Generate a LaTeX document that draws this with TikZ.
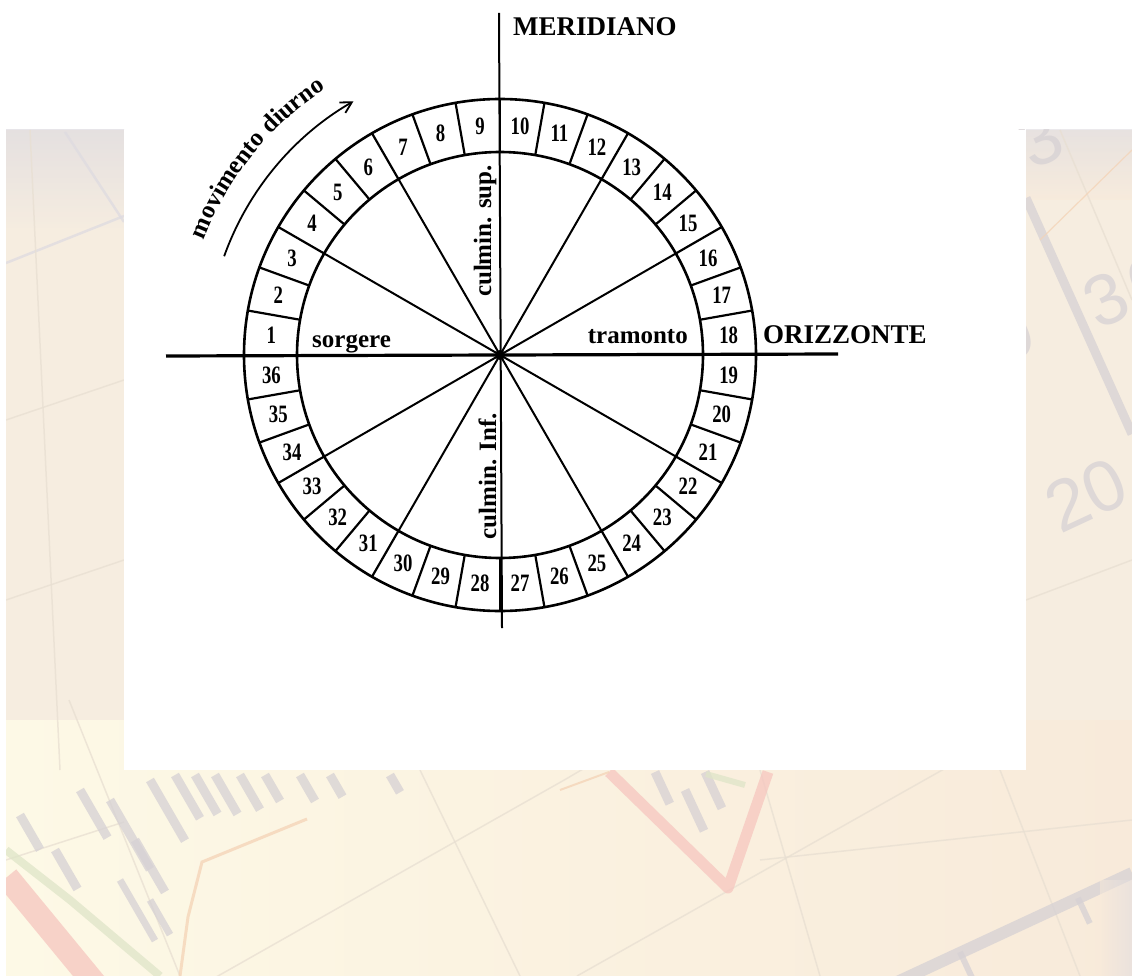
\documentclass[tikz,border=0pt]{standalone}
\usepackage{fontspec}
\setmainfont{Liberation Serif}
\newfontfamily\bgsans{Liberation Sans}
\usetikzlibrary{arrows.meta,decorations.text,calc}
\definecolor{bgcream}{HTML}{F6EDE0}
\definecolor{bgyellow}{HTML}{FDF9E6}
\definecolor{bgpeach}{HTML}{F8EADA}
\definecolor{lavgray}{HTML}{DEDBE0}
\definecolor{fadegray}{HTML}{D6D1D4}
\definecolor{fadegrid}{HTML}{E8DFD2}
\definecolor{fadered}{HTML}{F6C6BF}
\definecolor{fadeorange}{HTML}{F4D3B6}
\definecolor{fadegreen}{HTML}{DFE5C8}
\begin{document}
\begin{tikzpicture}[x=1pt,y=1pt,
  ring/.style={line width=2.6pt},
  divider/.style={line width=2.2pt},
  spoke/.style={line width=2pt},
  axisline/.style={line width=2pt},
  num/.style={font=\bfseries\fontsize{25}{25}\selectfont, inner sep=0pt},
  lbl/.style={font=\bfseries\fontsize{25}{25}\selectfont, inner sep=0pt},
  axislbl/.style={font=\bfseries\fontsize{27}{27}\selectfont, inner sep=0pt},
  gridline/.style={fadegrid, line width=1.5pt},
  fadedigit/.style={font=\bgsans\fontsize{72}{72}\selectfont, text=fadegray, inner sep=0pt},
  bar/.style={fadegray, line width=9pt}]
\useasboundingbox (0,0) rectangle (1132,-976);
\fill[white] (0,0) rectangle (1132,-976);
% ---------- faded background picture ----------
\begin{scope}
  \clip (6,-130) rectangle (1132,-976);
  \fill[bgcream] (6,-130) rectangle (1132,-976);
  \shade[left color=bgyellow, right color=bgpeach] (6,-720) rectangle (1132,-976);
  \shade[top color=lavgray, bottom color=bgcream, opacity=0.7] (6,-130) rectangle (124,-230);
  \shade[top color=lavgray, bottom color=bgpeach, opacity=0.6] (1026,-130) rectangle (1132,-200);
  \begin{scope}[opacity=0.75]
  % grid lines
  \draw[gridline, lavgray, line width=2.5pt] (6,-263) -- (124,-216);
  \draw[gridline, lavgray, line width=2.5pt] (65,-132) -- (124,-222);
  \draw[gridline] (6,-420) -- (124,-380);
  \draw[gridline] (6,-600) -- (124,-560);
  \draw[gridline] (30,-130) -- (60,-770);
  \draw[gridline] (1026,-600) -- (1132,-560);
  \draw[gridline] (1060,-130) -- (1132,-300);
  \draw[gridline] (6,-860) -- (124,-822);
  \draw[gridline] (195,-989) -- (566,-779) -- (700,-700);
  \draw[gridline] (577,-976) -- (960,-760);
  \draw[gridline] (69,-700) -- (180,-976);
  \draw[gridline] (420,-770) -- (520,-976);
  \draw[gridline] (760,-770) -- (820,-976);
  \draw[gridline] (1000,-770) -- (1080,-976);
  \draw[gridline] (760,-860) -- (1132,-820);
  % right band
  \draw[fadegray, line width=9pt] (1026,-198) -- (1132,-434);
  \draw[fadeorange, line width=1.2pt] (1040,-240) -- (1132,-150);
  \node[fadedigit, rotate=25] at (1106,-300) {3};
  \node[fadedigit, rotate=25] at (1150,-282) {0};
  \node[fadedigit, rotate=25] at (1012,-335) {9};
  \node[fadedigit, rotate=25] at (1086,-495) {20};
  \node[fadedigit, rotate=25] at (1040,-140) {3};
  % bottom left: candlestick bars and lines
  \draw[fadered, line width=24pt] (7,-877) -- (100,-990);
  \draw[fadegreen, line width=8pt] (6,-850) -- (70,-900) -- (160,-976);
  \draw[fadeorange, line width=3pt] (307,-819) -- (202,-862) -- (188,-917) -- (180,-976);
  \foreach \x/\y/\l in {20/-815/40, 55/-850/45, 80/-790/55, 110/-800/80, 135/-840/60,
      150/-780/70, 175/-775/50, 195/-775/45, 215/-775/45, 240/-775/40, 265/-775/30,
      300/-775/30, 330/-775/25, 390/-775/20}
    \draw[bar] (\x,\y) -- ++(-60:\l);
  \draw[bar, line width=7pt] (120,-880) -- ++(-60:70);
  \draw[bar, line width=7pt] (150,-900) -- ++(-60:40);
  % bottom middle: red V with bars
  \draw[fadered, line width=11pt, line join=round] (609,-772) -- (728,-888) -- (768,-772);
  \draw[fadeorange, line width=2pt] (560,-790) -- (609,-772);
  \draw[bar] (655,-772) -- ++(-65:35);
  \draw[bar] (685,-790) -- ++(-65:45);
  \draw[bar] (705,-772) -- ++(-65:40);
  \draw[fadegreen, line width=6pt] (706,-774) -- (745,-785);
  % bottom right: thick axis with ticks
  \draw[fadegray, line width=12pt] (1132,-873) -- (880,-990);
  \draw[fadegray, line width=6pt] (1078,-898) -- ++(-65:28);
  \draw[fadegray, line width=6pt] (960,-952) -- ++(-65:28);
  \end{scope}
  \shade[left color=bgpeach, right color=lavgray, opacity=0.5] (1100,-880) rectangle (1132,-976);
\end{scope}
\fill[white] (124,-130) rectangle (1026,-770);
% ---------- diagram ----------
\coordinate (C) at (500,-355);
\draw[ring] (C) circle[radius=256];
\draw[ring] (C) circle[radius=203];
\foreach \a in {0,10,...,350}
  \draw[divider] ($(C)+(\a:203)$) -- ($(C)+(\a:256)$);
\foreach \a in {30,60,120,150,210,240,300,330}
  \draw[spoke] (C) -- ($(C)+(\a:203)$);
\coordinate (mtop) at (499,-13);
\coordinate (mbot) at (502,-628);
\draw[axisline] (mtop) -- (mbot);
\coordinate (hl) at (166,-356);
\coordinate (hr) at (838,-354);
\draw[axisline, line width=3.2pt] (hl) -- (hr);
\fill (C) circle[radius=5];
% cell numbers
\foreach \k in {1,...,36} {
  \pgfmathsetmacro\ang{175-10*(\k-1)}
  \node[num] (n\k) at ($(C)+(\ang:229.5)$) {\scalebox{0.75}[1]{\k}};
}
% labels
\node[axislbl, anchor=base west] (mer) at (513,-36) {MERIDIANO};
\node[axislbl, anchor=base west] (oriz) at (763,-343) {ORIZZONTE};
\node[lbl, anchor=base west] (sorg) at (312,-347) {sorgere};
\node[lbl, anchor=base east] (tram) at (688,-343) {tramonto};
\node[lbl, anchor=base, rotate=90] (csup) at (491,-231) {culmin. sup.};
\node[lbl, anchor=base, rotate=90] (cinf) at (496,-476) {culmin. Inf.};
% diurnal motion
\path[decorate, decoration={text along path, text align=center,
   text={|\bfseries\fontsize{25}{25}\selectfont|movimento diurno}}]
   ($(C)+(162:318)$) arc[start angle=162, end angle=120, radius=318];
\coordinate (arrS) at ($(C)+(160.3:293)$);
\draw[line width=1.8pt, -{Straight Barb[length=11pt,width=12pt]}]
   (arrS) arc[start angle=160.3, end angle=120, radius=293];
\end{tikzpicture}
\end{document}
